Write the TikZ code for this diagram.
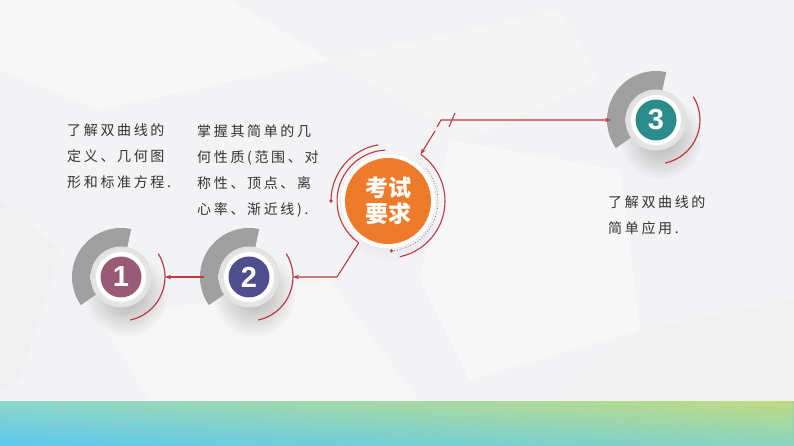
\documentclass[tikz,border=0pt]{standalone}
\usepackage{fontspec}
\setmainfont{Liberation Sans}
\newfontfamily\cjk[LetterSpace=19]{Noto Sans CJK SC}
\newfontfamily\cjkplain{Noto Sans CJK SC}
\usetikzlibrary{arrows.meta,calc,fadings}
\definecolor{bg}{HTML}{F3F3F5}
\definecolor{redl}{HTML}{BE3A40}
\definecolor{grayarc}{HTML}{A0A0A0}
\definecolor{cone}{HTML}{9A5A75}
\definecolor{ctwo}{HTML}{4F4E8C}
\definecolor{cthree}{HTML}{2D8C8B}
\definecolor{orng}{HTML}{EE7B2C}
\definecolor{txt}{HTML}{333333}
\definecolor{dotp}{HTML}{A067A0}
\definecolor{bandBL}{HTML}{5EC8EF}
\definecolor{bandBR}{HTML}{88D5C2}
\definecolor{bandTL}{HTML}{8ED8C8}
\definecolor{bandTR}{HTML}{C2DC80}
\tikzfading[name=shfade, inner color=transparent!0, outer color=transparent!100]
\tikzfading[name=fadedown, top color=transparent!5, bottom color=transparent!100]
\newcommand\stepcirc[5]{%
  \begin{scope}[shift={(#2,#3)}]
    \fill[black, opacity=0.28, path fading=shfade] (5,-18) circle (42);
    \fill[grayarc] (78:49) arc[start angle=78,end angle=215,radius=49] -- (215:29) arc[start angle=215,end angle=78,radius=29] -- cycle;
    \draw[redl, line width=1.2] (32:44) arc[start angle=32,end angle=-78,radius=44];
    \shade[inner color=white, outer color=black!12] (0,0) circle (30.5);
    \fill[white] (0,0) circle (25);
    \node[numdisc, fill=#4] (#1) at (0,0) {#5};
    \coordinate (#1e) at (0:44);
    \coordinate (#1w) at (180:45);
  \end{scope}}
\begin{document}
\begin{tikzpicture}[x=1pt,y=1pt,
  numdisc/.style={circle, minimum size=41pt, inner sep=0pt, text=white,
    font=\bfseries\fontsize{29}{29}\selectfont},
  orangedisc/.style={circle, minimum size=86pt, inner sep=0pt, fill=orng, text=white,
    align=center, font=\cjkplain\bfseries\fontsize{23}{26}\selectfont},
  conn/.style={redl, line width=1.1},
  tip/.style={-{Stealth[length=6pt,width=4.5pt]}},
  desc/.style={anchor=base west, inner sep=0pt, text=txt, font=\cjk\fontsize{14}{14}\selectfont}]
\useasboundingbox (0,0) rectangle (794,446);
\fill[bg] (0,0) rectangle (794,446);
% background facets (pixel coordinates, y downwards)
\begin{scope}[shift={(0,446)}, yscale=-1]
  \fill[white!97!black] (0,0) -- (230,0) -- (330,60) -- (100,110) -- (0,70) -- cycle;
  \fill[white!96!black] (330,60) -- (560,10) -- (600,80) -- (470,140) -- cycle;
  \fill[white!97!black] (450,140) -- (620,170) -- (640,330) -- (470,380) -- (420,280) -- cycle;
  \fill[white!94!black] (0,200) -- (60,250) -- (20,380) -- (0,390) -- cycle;
  \fill[white!94.5!black] (640,330) -- (794,300) -- (794,402) -- (560,402) -- cycle;
  \fill[white!96.5!black] (100,320) -- (330,280) -- (420,402) -- (150,402) -- cycle;
\end{scope}
% bottom band
\shade[left color=bandBL, right color=bandBR] (0,0) rectangle (794,44);
\shade[left color=bandTL, right color=bandTR, path fading=fadedown] (0,0) rectangle (794,44);
% numbered circles
\stepcirc{n1}{121}{169}{cone}{1}
\stepcirc{n2}{249}{169}{ctwo}{2}
\stepcirc{n3}{656}{326}{cthree}{3}
% central circle
\begin{scope}[shift={(388,245)}]
  \fill[black, opacity=0.12, path fading=shfade] (3,-8) circle (54);
  \fill[white] (0,0) circle (47.5);
  \draw[black!8] (0,0) circle (47.5);
  \draw[conn] (93:51) arc[start angle=93,end angle=235,radius=51];
  \draw[conn] (100:57) arc[start angle=100,end angle=180,radius=57];
  \fill[redl] (180:57) circle (1.8);
  \draw[conn] (55:57) arc[start angle=55,end angle=-78,radius=57];
  \draw[dotp, line width=0.8, dotted] (40:50) arc[start angle=40,end angle=-86,radius=50];
  \fill[redl] (-86:50) circle (1.8);
  \node[orangedisc] (core) at (0,0) {考试\\要求};
  \coordinate (oa) at (235:51);
  \coordinate (ob) at (55:57);
\end{scope}
% connectors
\coordinate (k1) at (337,169);
\coordinate (k2) at (435,315);
\coordinate (k3) at (437,319);
\coordinate (k4) at (441,326);
\coordinate (s1) at (449,319);
\coordinate (s2) at (455,333);
\draw[conn, tip] (n2w) -- (n1e);
\draw[conn, tip] (oa) -- (k1) -- (n2e);
\draw[conn, tip] (k2) -- (ob);
\draw[conn, tip] (k3) -- (k4) -- (n3w);
\draw[conn] (s1) -- (s2);
% texts
\node[desc] (a1) at (67,310) {了解双曲线的};
\node[desc] (a2) at (67,284) {定义、几何图};
\node[desc] (a3) at (67,258) {形和标准方程.};
\node[desc] (b1) at (197,309) {掌握其简单的几};
\node[desc] (b2) at (197,283) {何性质(范围、对};
\node[desc] (b3) at (197,257) {称性、顶点、离};
\node[desc] (b4) at (197,231) {心率、渐近线).};
\node[desc] (c1) at (608,238) {了解双曲线的};
\node[desc] (c2) at (608,212) {简单应用.};
\end{tikzpicture}
\end{document}
